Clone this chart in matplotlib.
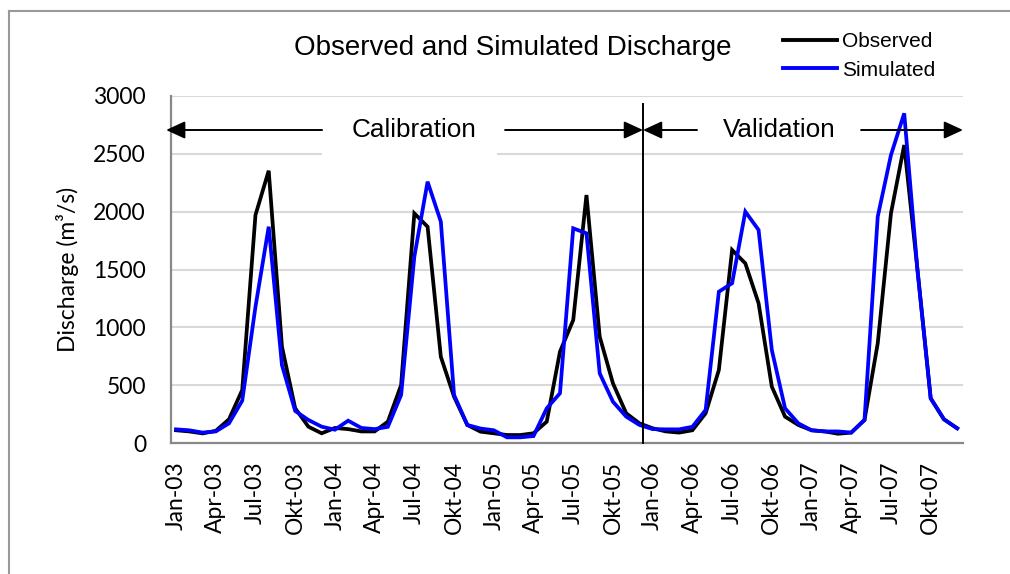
import matplotlib
matplotlib.use("Agg")
import matplotlib.pyplot as plt
from matplotlib.lines import Line2D
from matplotlib.patches import Rectangle

# Monthly discharge Jan-03 .. Des-07 (m3/s)
observed = [110, 100, 83, 105, 205, 458, 1971, 2354, 833, 300, 141, 84,
            130, 120, 100, 100, 185, 500, 1985, 1870, 746, 400, 156, 98,
            84, 69, 69, 84, 185, 790, 1063, 2144, 919, 516, 257, 170,
            127, 100, 90, 110, 257, 631, 1669, 1553, 1208, 487, 228, 156,
            110, 100, 80, 90, 199, 862, 1986, 2576, 1500, 386, 205, 127]
simulated = [118, 110, 90, 100, 170, 366, 1178, 1870, 674, 277, 199, 141,
             115, 193, 130, 120, 140, 415, 1611, 2259, 1914, 415, 156, 125,
             110, 49, 49, 60, 300, 430, 1856, 1813, 602, 357, 228, 156,
             120, 118, 118, 140, 285, 1308, 1381, 2000, 1842, 804, 300, 170,
             110, 100, 100, 90, 199, 1957, 2490, 2850, 1496, 386, 205, 127]
years = ["03", "04", "05", "06", "07"]
shown_months = ["Jan", "Apr", "Jul", "Okt"]
tick_labels = [f"{m}-{y}" for y in years for m in shown_months]
y_ticks = [0, 500, 1000, 1500, 2000, 2500, 3000]

tick_font = "Lato"
label_font = "Liberation Sans"

fig = plt.figure(figsize=(10.1, 5.74), dpi=100)
ax = fig.add_axes([171 / 1010, 1 - 443 / 574, (963 - 171) / 1010, (443 - 96) / 574])

months = list(range(len(observed)))
ax.plot(months, observed, color="black", lw=2.7, zorder=3, solid_joinstyle="miter")
ax.plot(months, simulated, color="#0000FF", lw=2.7, zorder=4, solid_joinstyle="miter")

ax.set_xlim(-0.38, 59.44)
ax.set_ylim(0, 3000)
ax.set_yticks(y_ticks)
ax.set_yticklabels([str(v) for v in y_ticks], fontfamily=tick_font, fontsize=16.5)
ax.set_xticks(months[::3])
ax.set_xticklabels(tick_labels, rotation=90, fontfamily=tick_font, fontsize=16.5)
ax.tick_params(axis="y", length=0, pad=18)
ax.tick_params(axis="x", length=0, pad=13)
ax.grid(axis="y", color="#d9d9d9", lw=1.5, zorder=0)
ax.set_axisbelow(True)
for s in ["top", "right"]:
    ax.spines[s].set_visible(False)
for s in ["left", "bottom"]:
    ax.spines[s].set_color("#888888")
    ax.spines[s].set_linewidth(1.6)
ax.set_ylabel("Discharge (m³/s)", fontfamily=tick_font, fontsize=16.5, labelpad=10)

# white box behind the Calibration label
ax.add_patch(Rectangle((11.03, 2470), 13.2, 420, facecolor="white",
                       edgecolor="none", zorder=1))

# period arrows
arrow_y = 2706
arr = dict(arrowstyle="-|>,head_length=1.15,head_width=0.53", color="black", lw=1.4,
           shrinkA=0, shrinkB=0)
for x0, x1 in [(11.03, -0.75), (24.85, 35.27), (39.35, 35.27), (51.74, 59.44)]:
    ax.annotate("", xy=(x1, arrow_y), xytext=(x0, arrow_y), arrowprops=arr,
                annotation_clip=False, zorder=5)
ax.text(17.95, arrow_y, "Calibration", ha="center", va="center",
        fontfamily=label_font, fontsize=18.8, zorder=6)
ax.text(45.6, arrow_y, "Validation", ha="center", va="center",
        fontfamily=label_font, fontsize=18.8, zorder=6)
ax.plot([35.27, 35.27], [0, 2931], color="black", lw=1.4, zorder=5, clip_on=False)

fig.text(513 / 1010, 1 - 48 / 574, "Observed and Simulated Discharge", ha="center",
         va="center", fontfamily=label_font, fontsize=20)

handles = [Line2D([], [], color="black", lw=2.8), Line2D([], [], color="#0000FF", lw=2.8)]
fig.legend(handles, ["Observed", "Simulated"], loc="center left",
           bbox_to_anchor=(783 / 1010, 1 - 56 / 574), frameon=False,
           prop={"family": label_font, "size": 15}, handlelength=2.6,
           handletextpad=0.25, labelspacing=0.45, borderpad=0, borderaxespad=0)

# outer chart border (left and top only are visible)
fig.add_artist(Line2D([8.5 / 1010, 8.5 / 1010], [0, 1 - 11 / 574],
                      transform=fig.transFigure, color="#999999", lw=1.5))
fig.add_artist(Line2D([8.5 / 1010, 1], [1 - 11 / 574, 1 - 11 / 574],
                      transform=fig.transFigure, color="#999999", lw=1.5))

fig.savefig("out.png", dpi=100)
